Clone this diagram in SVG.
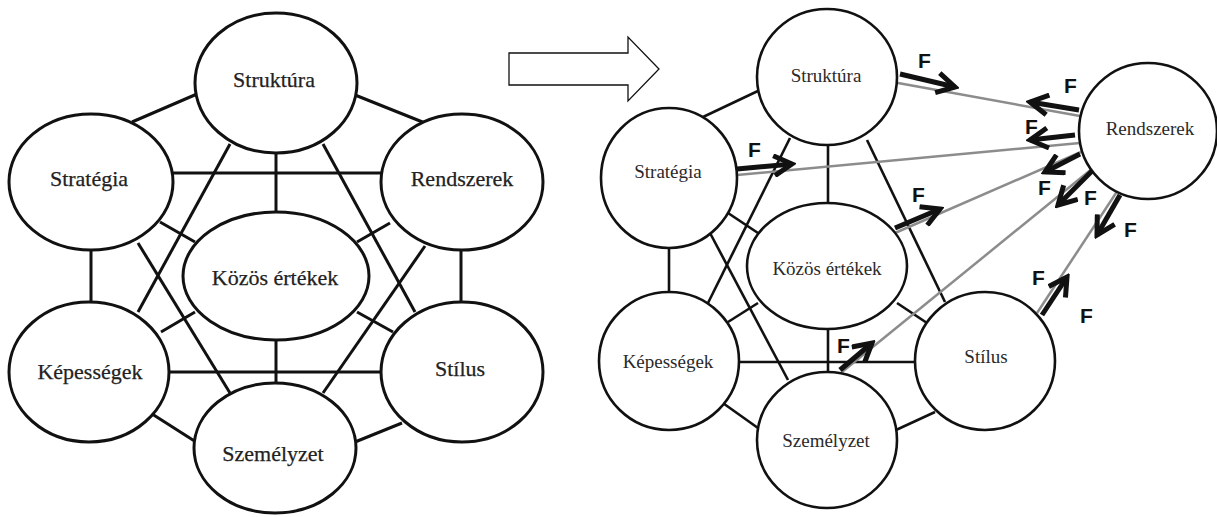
<svg xmlns="http://www.w3.org/2000/svg" width="1217" height="517" viewBox="0 0 1217 517">
<style>
.nl{fill:#fff;stroke:#111;stroke-width:3}
.nr{fill:#fff;stroke:#111;stroke-width:2.6}
.tl{font-family:"Liberation Serif","Times New Roman",serif;font-size:22px;fill:#222;text-anchor:middle;stroke:#222;stroke-width:0.25}
.tr{font-family:"Liberation Serif","Times New Roman",serif;font-size:19px;fill:#2a2a2a;text-anchor:middle}
.cl{stroke:#111;stroke-width:3;fill:none}
.cr{stroke:#111;stroke-width:2.6;fill:none}
.gl{stroke:#8c8c8c;stroke-width:2.5;fill:none}
.fa{stroke:#111;stroke-width:5;fill:none;marker-end:url(#chev)}
.f{font-family:"Liberation Sans",Arial,sans-serif;font-weight:bold;font-size:21px;fill:#111}
</style>
<defs>
<marker id="chev" viewBox="0 0 24 24" markerWidth="24" markerHeight="24" refX="20" refY="12" orient="auto" markerUnits="userSpaceOnUse">
<path d="M2,2 L20,12 L2,22" fill="none" stroke="#111" stroke-width="5" stroke-linejoin="miter"/>
</marker>
</defs>
<rect width="1217" height="517" fill="#fff"/>

<!-- left diagram connectors -->
<g id="connectors-left">
<line class="cl" x1="132" y1="122" x2="197" y2="94"/>
<line class="cl" x1="355" y1="95" x2="425" y2="123"/>
<line class="cl" x1="173" y1="173" x2="381" y2="173"/>
<line class="cl" x1="276" y1="153" x2="276" y2="212"/>
<line class="cl" x1="230" y1="144" x2="138" y2="312"/>
<line class="cl" x1="323" y1="144" x2="415" y2="312"/>
<line class="cl" x1="160" y1="222" x2="195" y2="242"/>
<line class="cl" x1="138" y1="243" x2="230" y2="393"/>
<line class="cl" x1="91" y1="250" x2="91" y2="302"/>
<line class="cl" x1="390" y1="223" x2="357" y2="242"/>
<line class="cl" x1="425" y1="246" x2="323" y2="393"/>
<line class="cl" x1="461" y1="250" x2="461" y2="302"/>
<line class="cl" x1="161" y1="332" x2="195" y2="312"/>
<line class="cl" x1="357" y1="312" x2="393" y2="332"/>
<line class="cl" x1="168" y1="372" x2="381" y2="372"/>
<line class="cl" x1="276" y1="340" x2="276" y2="383"/>
<line class="cl" x1="149" y1="412" x2="196" y2="442"/>
<line class="cl" x1="402" y1="423" x2="355" y2="442"/>
</g>

<!-- right diagram connectors -->
<g id="connectors-right">
<line class="cr" x1="703" y1="117" x2="760" y2="90"/>
<line class="cr" x1="728" y1="213" x2="758" y2="233"/>
<line class="cr" x1="828" y1="145" x2="828" y2="203"/>
<line class="cr" x1="790" y1="138" x2="708" y2="303"/>
<line class="cr" x1="710" y1="233" x2="788" y2="380"/>
<line class="cr" x1="867" y1="140" x2="945" y2="302"/>
<line class="cr" x1="669" y1="247" x2="669" y2="292"/>
<line class="cr" x1="728" y1="322" x2="758" y2="303"/>
<line class="cr" x1="738" y1="362" x2="916" y2="362"/>
<line class="cr" x1="828" y1="329" x2="828" y2="372"/>
<line class="cr" x1="720" y1="401" x2="758" y2="428"/>
<line class="cr" x1="935" y1="412" x2="896" y2="430"/>
<line class="cr" x1="897" y1="303" x2="927" y2="323"/>
<line class="gl" x1="898" y1="83" x2="1080" y2="116"/>
<line class="gl" x1="737" y1="175" x2="1080" y2="143"/>
<line class="gl" x1="895" y1="233" x2="1081" y2="152"/>
<line class="gl" x1="842" y1="372" x2="1093" y2="168"/>
<line class="gl" x1="1037" y1="313" x2="1118" y2="190"/>
<line class="fa" x1="900" y1="74" x2="955" y2="87"/>
<line class="fa" x1="1079" y1="110" x2="1030" y2="102"/>
<line class="fa" x1="1075" y1="135" x2="1030" y2="140"/>
<line class="fa" x1="737" y1="169" x2="792" y2="164"/>
<line class="fa" x1="895" y1="228" x2="940" y2="209"/>
<line class="fa" x1="1080" y1="154" x2="1045" y2="172"/>
<line class="fa" x1="1093" y1="170" x2="1058" y2="205"/>
<line class="fa" x1="840" y1="370" x2="872" y2="343"/>
<line class="fa" x1="1120" y1="195" x2="1097" y2="235"/>
<line class="fa" x1="1042" y1="315" x2="1067" y2="277"/>
<text class="f" x="918" y="68">F</text>
<text class="f" x="1064" y="93">F</text>
<text class="f" x="1025" y="134">F</text>
<text class="f" x="748" y="157">F</text>
<text class="f" x="912" y="202">F</text>
<text class="f" x="1038" y="195">F</text>
<text class="f" x="1084" y="205">F</text>
<text class="f" x="1032" y="285">F</text>
<text class="f" x="1080" y="323">F</text>
<text class="f" x="1124" y="237">F</text>
<text class="f" x="837" y="353">F</text>
</g>

<!-- transition arrow -->
<g id="transition-arrow">
<polygon points="509,53 628,53 628,37 659,69 628,101 628,85 509,85" fill="#fff" stroke="#111" stroke-width="1.3"/>
</g>

<!-- left nodes -->
<g id="l-struktura"><ellipse class="nl" cx="276" cy="83" rx="81" ry="70"/><text class="tl" x="274" y="87">Struktúra</text></g>
<g id="l-strategia"><ellipse class="nl" cx="91" cy="182" rx="82" ry="68"/><text class="tl" x="89" y="186">Stratégia</text></g>
<g id="l-rendszerek"><ellipse class="nl" cx="462" cy="182" rx="81" ry="68"/><text class="tl" x="462" y="186">Rendszerek</text></g>
<g id="l-kozos"><ellipse class="nl" cx="276" cy="276" rx="93" ry="64"/><text class="tl" x="275" y="285">Közös értékek</text></g>
<g id="l-kepessegek"><ellipse class="nl" cx="89" cy="372" rx="80" ry="70"/><text class="tl" x="90" y="379">Képességek</text></g>
<g id="l-stilus"><ellipse class="nl" cx="462" cy="372" rx="81" ry="70"/><text class="tl" x="460" y="376">Stílus</text></g>
<g id="l-szemelyzet"><ellipse class="nl" cx="275" cy="448" rx="81" ry="65"/><text class="tl" x="273" y="461">Személyzet</text></g>

<!-- right nodes -->
<g id="r-struktura"><ellipse class="nr" cx="827" cy="77" rx="70" ry="68"/><text class="tr" x="826" y="82">Struktúra</text></g>
<g id="r-strategia"><ellipse class="nr" cx="669" cy="178" rx="68" ry="70"/><text class="tr" x="668" y="178">Stratégia</text></g>
<g id="r-rendszerek"><ellipse class="nr" cx="1148" cy="131" rx="69" ry="68"/><text class="tr" x="1150" y="135">Rendszerek</text></g>
<g id="r-kozos"><ellipse class="nr" cx="827" cy="266" rx="80" ry="63"/><text class="tr" x="827" y="275">Közös értékek</text></g>
<g id="r-kepessegek"><ellipse class="nr" cx="669" cy="361" rx="70" ry="69"/><text class="tr" x="668" y="368">Képességek</text></g>
<g id="r-stilus"><ellipse class="nr" cx="985" cy="361" rx="70" ry="69"/><text class="tr" x="986" y="363">Stílus</text></g>
<g id="r-szemelyzet"><ellipse class="nr" cx="827" cy="440" rx="70" ry="68"/><text class="tr" x="826" y="447">Személyzet</text></g>
</svg>
